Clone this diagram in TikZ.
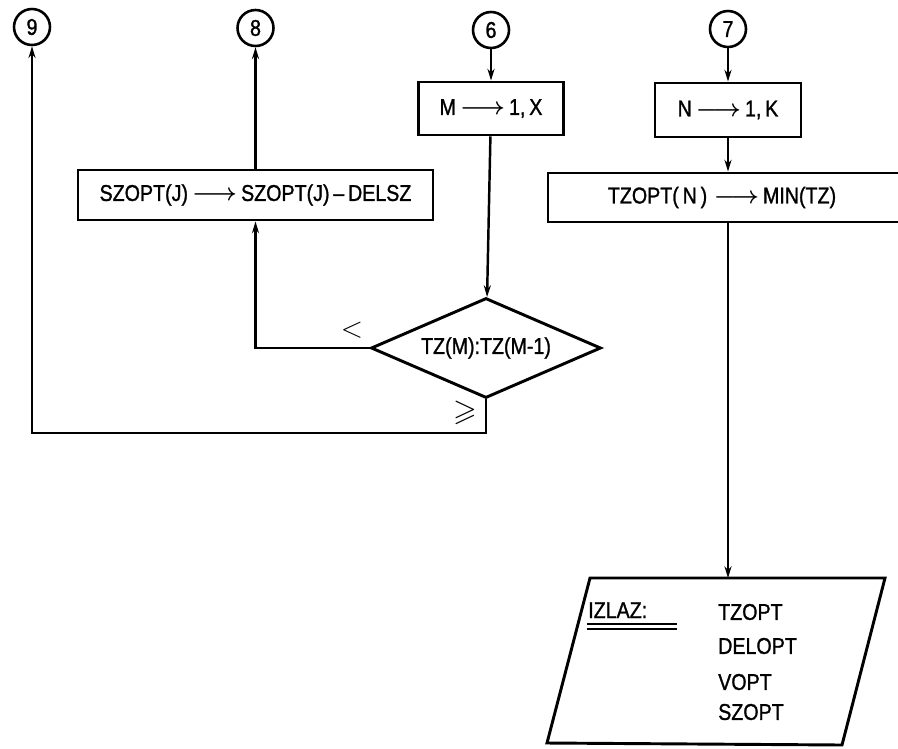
\documentclass[tikz,border=0pt]{standalone}
\usepackage{amsmath,amssymb}
\usepackage{fontspec}
\setmainfont{Liberation Sans}[FakeStretch=0.86, FakeBold=1.2]
\usetikzlibrary{shapes.geometric,arrows.meta}
\begin{document}
\begin{tikzpicture}[x=0.03cm,y=-0.03cm,
  font=\fontsize{19.5}{22}\selectfont,
  conn/.style={draw, line width=2.1pt},
  arr/.style={conn, -{Stealth[length=10pt,width=6pt]}},
  conncirc/.style={circle, draw, line width=2.2pt, minimum size=1.08cm, inner sep=0pt},
  procbox/.style={draw, line width=2.5pt, inner sep=0pt},
  decision/.style={diamond, aspect=2.3, draw, line width=2.5pt, inner sep=0pt, minimum width=6.9cm, minimum height=3cm},
  lbl/.style={inner sep=0pt},
  branch/.style={inner sep=0pt, font=\fontsize{26}{28}\selectfont}
]
\useasboundingbox (0,0) rectangle (898,748);
\clip (0,0) rectangle (898,748);

% connectors (circles)
\node[conncirc] (c9) at (32,27) {9};
\node[conncirc] (c8) at (255.5,28) {8};
\node[conncirc] (c6) at (491,30) {6};
\node[conncirc] (c7) at (728,29) {7};

% boxes
\node[procbox, minimum width=4.35cm, minimum height=1.59cm] (mbox) at (491,108.5) {M$\,\boldsymbol{\longrightarrow}\,$1,\,X};
\node[procbox, minimum width=4.38cm, minimum height=1.62cm] (nbox) at (728,110) {N$\,\boldsymbol{\longrightarrow}\,$1,\,K};
\node[procbox, minimum width=10.65cm, minimum height=1.5cm] (szbox) at (255.5,195) {SZOPT(J)$\,\boldsymbol{\longrightarrow}\,$SZOPT(J)\,--\,DELSZ};
\node[procbox, minimum width=10.74cm, minimum height=1.47cm] (tzbox) at (727,197.5) {};
\node[lbl] (tztext) at (722,197.5) {TZOPT(\,N\,)$\;\boldsymbol{\longrightarrow}\,$MIN(TZ)};

% decision
\node[decision] (dia) at (486,348) {TZ(M):TZ(M-1)};

% output parallelogram
\coordinate (outtop) at (728,578);
\draw[line width=2.5pt] (590,578) -- (885,578) -- (842,745) -- (547,743) -- cycle;
\node[lbl, anchor=base west] (izlaz) at (588,618) {IZLAZ:};
\draw[line width=2.4pt] (587,624) -- (677,624);
\draw[line width=1.4pt] (587,629) -- (677,629);
\node[lbl, anchor=west] (o1) at (718,612) {TZOPT};
\node[lbl, anchor=west] (o2) at (718,646) {DELOPT};
\node[lbl, anchor=west] (o3) at (718,682) {VOPT};
\node[lbl, anchor=west] (o4) at (718,712) {SZOPT};

% connectors
\draw[arr] (c6) -- (mbox);
\draw[arr] (mbox) -- (dia);
\draw[arr] (dia.west) -| (szbox.south);
\draw[arr] (szbox) -- (c8);
\coordinate (turn9) at (32,433);
\draw[arr] (dia.south) |- (turn9) -- (c9);
\draw[arr] (c7) -- (nbox);
\draw[arr] (nbox) -- (tzbox.north -| nbox);
\draw[arr] (tzbox.south -| nbox) -- (outtop);

% branch labels
\node[branch] (lt) at (352,330) {$<$};
\node[branch] (ge) at (465,413) {$\geqslant$};
\end{tikzpicture}
\end{document}
